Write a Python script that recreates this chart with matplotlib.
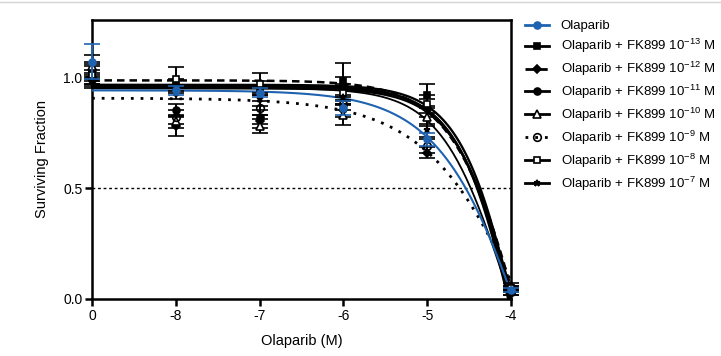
import numpy as np
import matplotlib.pyplot as plt
from matplotlib.lines import Line2D

plt.rcParams['font.family'] = ['Liberation Sans', 'DejaVu Sans']
plt.rcParams['mathtext.fontset'] = 'custom'
plt.rcParams['mathtext.rm'] = 'Liberation Sans'
plt.rcParams['mathtext.it'] = 'Liberation Sans:italic'

# log [Olaparib] (M); the untreated control is drawn at the "0" position (-9)
log_dose = [-9, -8, -7, -6, -5, -4]
tick_labels = ['0', '-8', '-7', '-6', '-5', '-4']

labels = ['Olaparib',
          'Olaparib + FK899 10$^{-13}$ M',
          'Olaparib + FK899 10$^{-12}$ M',
          'Olaparib + FK899 10$^{-11}$ M',
          'Olaparib + FK899 10$^{-10}$ M',
          'Olaparib + FK899 10$^{-9}$ M',
          'Olaparib + FK899 10$^{-8}$ M',
          'Olaparib + FK899 10$^{-7}$ M']

# surviving fraction (mean) and SEM per dose
olaparib = [1.07, 0.94, 0.93, 0.86, 0.72, 0.04]
fk899_13 = [1.02, 0.96, 0.95, 0.98, 0.92, 0.05]
fk899_12 = [1.00, 0.78, 0.80, 0.85, 0.66, 0.03]
fk899_11 = [1.03, 0.85, 0.82, 0.96, 0.86, 0.04]
fk899_10 = [1.05, 0.80, 0.78, 0.83, 0.82, 0.06]
fk899_9 = [0.99, 0.82, 0.86, 0.88, 0.69, 0.03]
fk899_8 = [1.01, 0.99, 0.97, 0.93, 0.88, 0.05]
fk899_7 = [0.98, 0.93, 0.90, 0.91, 0.76, 0.04]

sem_olaparib = [0.08, 0.02, 0.02, 0.03, 0.03, 0.01]
sem_13 = [0.04, 0.03, 0.03, 0.085, 0.05, 0.01]
sem_12 = [0.03, 0.046, 0.03, 0.03, 0.025, 0.01]
sem_11 = [0.04, 0.03, 0.03, 0.04, 0.04, 0.01]
sem_10 = [0.05, 0.03, 0.03, 0.046, 0.04, 0.01]
sem_9 = [0.03, 0.03, 0.03, 0.03, 0.03, 0.01]
sem_8 = [0.04, 0.055, 0.05, 0.04, 0.04, 0.01]
sem_7 = [0.03, 0.03, 0.03, 0.03, 0.03, 0.01]

# four-parameter logistic fits: top, bottom, logEC50, hill slope
fit_top = [0.94, 0.96, 0.985, 0.955, 0.95, 0.905, 0.965, 0.95]
fit_bottom = [-1.5, -1.5, -1.5, -1.5, -1.2, -1.5, -1.5, -0.8]
fit_logec50 = [-3.72, -3.85, -3.78, -3.87, -3.89, -3.58, -3.84, -4.07]
fit_hill = [0.8, 1.16, 1.0, 1.2, 1.15, 0.67, 1.2, 1.12]

means = [olaparib, fk899_13, fk899_12, fk899_11, fk899_10, fk899_9, fk899_8, fk899_7]
sems = [sem_olaparib, sem_13, sem_12, sem_11, sem_10, sem_9, sem_8, sem_7]

blue = '#1f63b0'
styles = [
    dict(color=blue, ls='-', lw=1.5, marker='o', mfc=blue, ms=5),
    dict(color='black', ls='-', lw=1.7, marker='s', mfc='black', ms=5),
    dict(color='black', ls=(0, (3, 2)), lw=1.8, marker='D', mfc='black', ms=4),
    dict(color='black', ls='-', lw=1.7, marker='o', mfc='black', ms=5),
    dict(color='black', ls='-', lw=1.7, marker='^', mfc='white', ms=5.5),
    dict(color='black', ls=(0, (1, 2.5)), lw=2.0, marker='o', mfc='none', ms=5.5),
    dict(color='black', ls='-', lw=1.7, marker='s', mfc='white', ms=5),
    dict(color='black', ls='-', lw=1.3, marker='*', mfc='black', ms=5),
]

fig = plt.figure(figsize=(7.21, 3.56), dpi=100)
ax = fig.add_axes([92 / 721, 1 - 299 / 356, (511 - 92) / 721, (299 - 20) / 356])

xs = np.linspace(-9, -4, 300)
handles = []
for i in range(len(labels)):
    st = styles[i]
    z = 4 if i == 0 else 3
    top, bot, c, h = fit_top[i], fit_bottom[i], fit_logec50[i], fit_hill[i]
    curve = bot + (top - bot) / (1 + 10 ** ((xs - c) * h))
    ax.plot(xs, curve, color=st['color'], ls=st['ls'], lw=st['lw'], zorder=z,
            solid_capstyle='butt')
    ax.errorbar(log_dose, means[i], yerr=sems[i], fmt=st['marker'],
                color=st['color'], mfc=st['mfc'], mec=st['color'], mew=1.2,
                ms=st['ms'], ecolor=st['color'], elinewidth=1.4, capsize=6,
                capthick=1.4, zorder=z + 1, clip_on=False)
    handles.append(Line2D([], [], color=st['color'], ls=st['ls'], lw=2.0,
                          marker=st['marker'], mfc=st['mfc'], mec=st['color'],
                          mew=1.2, ms=st['ms']))

ax.axhline(0.5, color='black', lw=1.0, ls=(0, (2, 2)), zorder=1)

ax.set_xlim(-9, -4)
ax.set_ylim(0, 1.257)
ax.set_xticks(log_dose)
ax.set_xticklabels(tick_labels)
ax.set_yticks([0, 0.5, 1.0])
ax.set_yticklabels(['0.0', '0.5', '1.0'])
for sp in ax.spines.values():
    sp.set_linewidth(1.8)
ax.tick_params(direction='out', length=5, width=1.8, labelsize=10, pad=2)
ax.set_xlabel('Olaparib (M)', fontsize=10.5, labelpad=8)
ax.set_ylabel('Surviving Fraction', fontsize=10.5, labelpad=10)

fig.legend(handles, labels, loc='upper left', bbox_to_anchor=(525 / 721, 1 - 20 / 356),
           frameon=False, fontsize=9.5, handlelength=1.8, handletextpad=0.9,
           labelspacing=0.36, borderaxespad=0, borderpad=0)

# thin rule along the top of the figure
fig.add_artist(Line2D([0, 1], [1 - 1.5 / 356] * 2, color='#d4d4d4', lw=1.0,
                      transform=fig.transFigure))

fig.savefig('out.png', dpi=100)
